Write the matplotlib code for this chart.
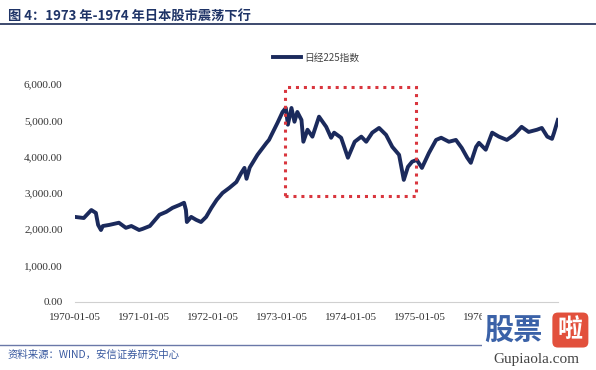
import matplotlib
matplotlib.use('Agg')

import numpy as np
import pandas as pd
import matplotlib.pyplot as plt
import matplotlib.dates as mdates
from matplotlib.patches import Rectangle

plt.rcParams['font.family'] = ['Noto Sans CJK SC', 'DejaVu Sans']

# Nikkei 225
dates = [
  '1970-01-05', '1970-02-20', '1970-04-01', '1970-04-25', '1970-05-07',
  '1970-05-22', '1970-06-01', '1970-07-05', '1970-08-25', '1970-10-01',
  '1970-10-30', '1970-12-10', '1970-12-28', '1971-02-05', '1971-03-28',
  '1971-05-03', '1971-06-05', '1971-07-12', '1971-08-05', '1971-08-15',
  '1971-08-20', '1971-09-12', '1971-10-08', '1971-11-03', '1971-11-30',
  '1971-12-28', '1972-01-25', '1972-02-25', '1972-04-01', '1972-05-08',
  '1972-06-03', '1972-06-20', '1972-07-01', '1972-07-18', '1972-08-28',
  '1972-10-15', '1972-10-28', '1972-12-12', '1973-01-08', '1973-01-25',
  '1973-02-05', '1973-02-24', '1973-03-12', '1973-03-27', '1973-04-18',
  '1973-04-28', '1973-05-20', '1973-06-15', '1973-07-20', '1973-08-27',
  '1973-09-22', '1973-10-08', '1973-11-14', '1973-12-20', '1974-01-25',
  '1974-03-01', '1974-03-27', '1974-04-28', '1974-06-03', '1974-07-10',
  '1974-08-12', '1974-09-17', '1974-10-12', '1974-11-03', '1974-11-25',
  '1974-12-20', '1975-01-16', '1975-02-22', '1975-04-01', '1975-04-28',
  '1975-06-08', '1975-07-15', '1975-08-15', '1975-09-13', '1975-10-02',
  '1975-10-30', '1975-11-14', '1975-12-20', '1976-01-23', '1976-02-28',
  '1976-04-10', '1976-05-18', '1976-06-27', '1976-08-03', '1976-09-16',
  '1976-10-12', '1976-11-10', '1976-12-05', '1976-12-16', '1977-01-05',
]
nikkei = [
  2340, 2310, 2530, 2450, 2120,
  1980, 2090, 2120, 2180, 2040,
  2090, 1980, 2010, 2090, 2400,
  2480, 2590, 2670, 2730, 2530,
  2200, 2340, 2260, 2200, 2340,
  2590, 2810, 3000, 3140, 3300,
  3550, 3690, 3390, 3700, 4050,
  4380, 4460, 4930, 5230, 5340,
  4880, 5340, 4960, 5230, 5010,
  4410, 4740, 4550, 5100, 4820,
  4520, 4660, 4520, 3970, 4410,
  4550, 4410, 4660, 4790, 4600,
  4270, 4050, 3360, 3720, 3860,
  3910, 3690, 4100, 4460, 4520,
  4410, 4460, 4240, 3970, 3830,
  4270, 4380, 4190, 4660, 4550,
  4460, 4600, 4820, 4680, 4740,
  4790, 4550, 4490, 4660, 5010,
]
xticks = ['1970-01-05', '1971-01-05', '1972-01-05', '1973-01-05',
          '1974-01-05', '1975-01-05', '1976-01-05']
yticks = [0, 1000, 2000, 3000, 4000, 5000, 6000]

# highlighted period
box_start, box_end = '1973-01-20', '1974-12-15'
box_low, box_high = 2920, 5920

navy = '#1b2a5c'
serif = 'Liberation Serif'

fig = plt.figure(figsize=(5.96, 3.70), dpi=100)
ax = fig.add_axes([0.126, 0.184, 0.81, 0.589])

x = pd.to_datetime(dates)
ax.plot(x, nikkei, color=navy, linewidth=2.8, label='日经225指数',
        solid_joinstyle='round')

x0 = mdates.date2num(pd.Timestamp(box_start))
x1 = mdates.date2num(pd.Timestamp(box_end))
ax.add_patch(Rectangle((x0, box_low), x1 - x0, box_high - box_low,
                       fill=False, edgecolor='#d9363e', linewidth=2.2,
                       linestyle=(0, (1, 1.6)), zorder=3))

ax.set_xlim(pd.Timestamp('1970-01-05'), pd.Timestamp('1977-01-05'))
ax.set_ylim(0, 6000)
ax.set_xticks(pd.to_datetime(xticks))
ax.set_xticklabels(xticks, fontfamily=serif, fontsize=8, color='#333333')
ax.set_yticks(yticks)
ax.set_yticklabels(['{:,.2f}'.format(v) for v in yticks],
                   fontfamily=serif, fontsize=8, color='#333333')
ax.tick_params(axis='y', length=0, pad=9)
ax.tick_params(axis='x', length=0, pad=8)
for side in ['top', 'right', 'left']:
  ax.spines[side].set_visible(False)
ax.spines['bottom'].set_color('#d0d0d0')

leg = ax.legend(loc='upper center', bbox_to_anchor=(0.5, 1.185), frameon=False,
                fontsize=7, handlelength=2.8, handletextpad=0.4)
for t in leg.get_texts():
  t.set_color('#444444')

# title and source
fig.text(0.013, 0.958, '图 4：1973 年-1974 年日本股市震荡下行', fontsize=9.5,
         fontweight='bold', color='#1f3467', va='center')
fig.add_artist(plt.Line2D([0.0, 1.0], [0.934, 0.934], color='#3c4a6e', linewidth=1.4))
fig.add_artist(plt.Line2D([0.0, 0.81], [0.068, 0.068], color='#6a78a8', linewidth=1.0))
fig.text(0.013, 0.042, '资料来源：WIND，安信证券研究中心', fontsize=7.5,
         style='italic', color='#3a5aa0', va='center')

# watermark (covers the last x label as in the reference)
fig.text(0.862, 0.108, '股票', fontsize=21, fontweight='bold', color='#3b62a8',
         ha='center', va='center', zorder=5,
         bbox=dict(facecolor='white', edgecolor='none', pad=2))
fig.text(0.957, 0.108, '啦', fontsize=18, fontweight='bold', color='white',
         ha='center', va='center', zorder=5,
         bbox=dict(facecolor='#e2503c', edgecolor='none', boxstyle='round,pad=0.22'))
fig.text(0.9, 0.028, 'Gupiaola.com', fontsize=11, fontfamily=serif,
         color='#444444', ha='center', va='center')

plt.savefig('out.png', dpi=100)
